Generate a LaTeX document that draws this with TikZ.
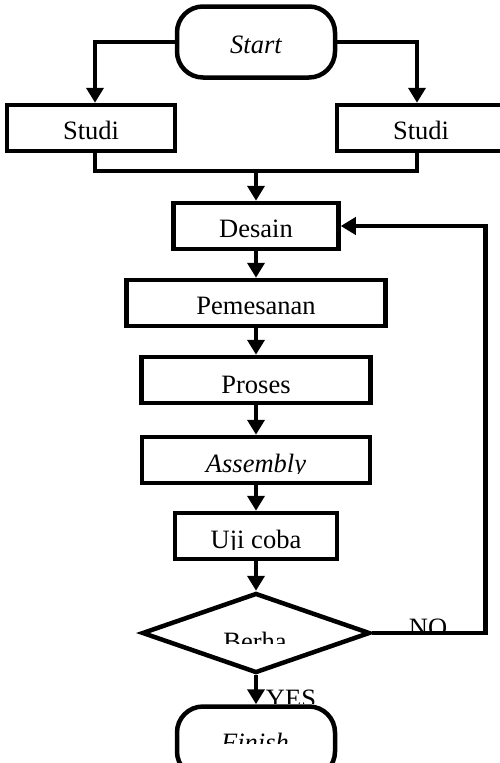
\documentclass[tikz,border=0pt]{standalone}
\usepackage{fontspec}
\setmainfont{Liberation Serif}
\usetikzlibrary{shapes.geometric,arrows.meta}

\tikzset{
  box/.style={draw, line width=4.5pt, inner sep=0, minimum height=46pt, text height=23pt, text depth=0pt, font=\fontsize{26.5}{30}\selectfont},
  term/.style={box, rounded corners=26pt, minimum width=158pt, minimum height=71pt, font=\fontsize{26.5}{30}\selectfont\itshape},
  decide/.style={box, diamond, minimum width=228pt, minimum height=80pt},
  txt/.style={inner sep=0, font=\fontsize{26.5}{30}\selectfont},
  line/.style={line width=4.5pt},
  arrow/.style={line, -{Triangle[length=15pt,width=17pt]}},
}

% text cut off below a given line
\newcommand{\cuttext}[5]{%
  \begin{scope}
    \clip (#2-90,#4-40) rectangle (#2+90,#4);
    \node[txt, anchor=base] (#1) at (#2,#3) {#5};
  \end{scope}}

\begin{document}
\begin{tikzpicture}[x=1pt,y=-1pt]
    \useasboundingbox (0,0) rectangle (499,763);

    \node[term] (start) at (256,42) {Start};
    \node[box,minimum width=168pt] (studiL) at (91,128) {Studi};
    \node[box,minimum width=168pt] (studiR) at (421,128) {Studi};
    \node[box,minimum width=165pt] (desain) at (256,226) {Desain};
    \node[box,minimum width=259pt] (pesan) at (256,303) {Pemesanan};
    \node[box,minimum width=229pt] (proses) at (256,380) {};
    \node[box,minimum width=228pt] (assembly) at (256,460) {};
    \node[box,minimum width=162pt] (uji) at (256,536) {};
    \node[decide] (cek) at (256,633) {};
    \node[term] (finish) at (256,742) {};

    \cuttext{tproses}{256}{393}{394}{Proses}
    \cuttext{tassembly}{256}{472}{473}{\itshape Assembly}
    \cuttext{tuji}{256}{548}{549}{Uji coba}
    \cuttext{tcek}{255}{650}{643}{Berha}
    \cuttext{tfinish}{255}{751}{743}{\itshape Finish}
    \cuttext{no}{428}{636}{630}{NO}
    \cuttext{yes}{291}{707}{703}{YES}

    \draw[arrow] (start.west) -| ([xshift=4pt]studiL.north);
    \draw[arrow] (start.east) -| ([xshift=-4pt]studiR.north);

    \coordinate (jn) at (256,171);
    \draw[line] ([xshift=4pt]studiL.south) |- (jn) -| ([xshift=-4pt]studiR.south);
    \draw[arrow] (jn) -- (desain.north);

    \draw[arrow] (desain.south) -- (pesan.north);
    \draw[arrow] (pesan.south) -- (proses.north);
    \draw[arrow] (proses.south) -- (assembly.north);
    \draw[arrow] (assembly.south) -- (uji.north);
    \draw[arrow] (uji.south) -- (cek.north);
    \draw[arrow] (cek.south) -- (finish.north);
    \draw[arrow] (cek.east) -- ++(113,0) |- (desain.east);

\end{tikzpicture}
\end{document}
